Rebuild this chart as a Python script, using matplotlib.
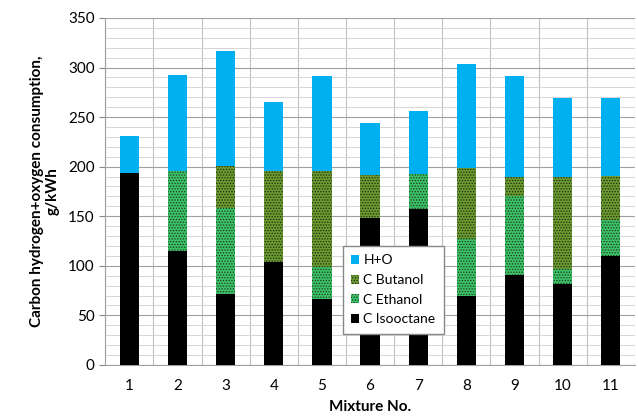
import numpy as np
import matplotlib.pyplot as plt
from matplotlib.ticker import MultipleLocator

plt.rcParams['font.family'] = ['Lato', 'DejaVu Sans']

# Werte (g/kWh)
mixtures = ['1', '2', '3', '4', '5', '6', '7', '8', '9', '10', '11']
c_isooctane = [194, 115, 72, 104, 66, 148, 157, 70, 91, 82, 110]
c_ethanol = [0, 81, 86, 0, 33, 0, 36, 57, 79, 15, 36]
c_butanol = [0, 0, 43, 92, 97, 44, 0, 72, 20, 93, 45]
h_o = [37, 96, 116, 69, 95, 52, 63, 105, 101, 79, 78]

fig = plt.figure(figsize=(6.38, 4.18), dpi=100)
ax = fig.add_axes([0.165, 0.127, 0.83, 0.83])

x = np.arange(len(mixtures))
w = 0.4
plt.rcParams['hatch.linewidth'] = 0.6

b0 = np.array(c_isooctane, dtype=float)
b1 = b0 + np.array(c_ethanol)
b2 = b1 + np.array(c_butanol)

ax.bar(x, c_isooctane, w, color='black', label='C Isooctane', zorder=3)
ax.bar(x, c_ethanol, w, bottom=b0, color='#3cc068', edgecolor='#1c3a1c',
       hatch='......', linewidth=0, label='C Ethanol', zorder=3)
ax.bar(x, c_butanol, w, bottom=b1, color='#6a9a30', edgecolor='#1e2a10',
       hatch='......', linewidth=0, label='C Butanol', zorder=3)
ax.bar(x, h_o, w, bottom=b2, color='#00b0f0', label='H+O', zorder=3)

ax.set_xlim(-0.5, len(mixtures) - 0.5)
ax.set_ylim(0, 350)
ax.set_xticks(x)
ax.set_xticklabels(mixtures)
ax.yaxis.set_major_locator(MultipleLocator(50))
ax.yaxis.set_minor_locator(MultipleLocator(10))
ax.set_xticks(np.arange(len(mixtures) + 1) - 0.5, minor=True)
ax.tick_params(axis='x', which='both', length=0, labelsize=11, pad=10)
ax.tick_params(axis='y', which='minor', length=0)
ax.tick_params(axis='y', which='major', length=4, color='#888888', labelsize=11)

ax.grid(axis='y', which='major', color='#a0a0a0', linewidth=0.8, zorder=0)
ax.grid(axis='y', which='minor', color='#d0d0d0', linewidth=0.6, zorder=0)
ax.grid(axis='x', which='minor', color='#c0c0c0', linewidth=0.8, zorder=0)
for s in ['top', 'right']:
    ax.spines[s].set_visible(False)
for s in ['left', 'bottom']:
    ax.spines[s].set_color('#a0a0a0')

ax.set_xlabel('Mixture No.', fontweight='bold', fontsize=11, labelpad=5)
ax.set_ylabel('Carbon hydrogen+oxygen consumption,\ng/kWh', fontweight='bold',
              fontsize=11, labelpad=6)

h, l = ax.get_legend_handles_labels()
leg = ax.legend(h[::-1], l[::-1], loc='lower left', bbox_to_anchor=(0.435, 0.07),
                fontsize=10, handlelength=0.6, handleheight=0.6, fancybox=False,
                edgecolor='#888888', framealpha=1, borderpad=0.6, labelspacing=0.55,
                handletextpad=0.3)
leg.set_zorder(5)

fig.savefig('out.png', dpi=100)
